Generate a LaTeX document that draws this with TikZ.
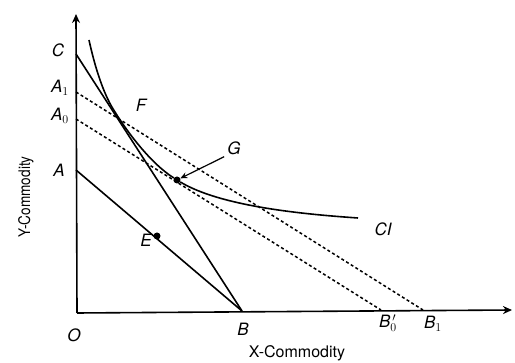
\documentclass[tikz,border=0pt]{standalone}
\usepackage{fontspec}
\setmainfont{TeX Gyre Heros}
\usetikzlibrary{arrows.meta}
\begin{document}
\begin{tikzpicture}[x=1pt,y=-1pt,
  ax/.style={line width=1.6pt,-{Stealth[length=9pt,width=8pt]}},
  bl/.style={line width=1.6pt},
  dl/.style={line width=1.5pt,dash pattern=on 3pt off 2.5pt},
  lab/.style={font=\fontsize{17}{19}\selectfont\itshape,inner sep=0pt},
  axlab/.style={font=\fontsize{16}{18}\selectfont,inner sep=0pt},
  dot/.style={circle,fill=black,inner sep=0pt,minimum size=7pt}]
\useasboundingbox (0,0) rectangle (515,363);
% points
\coordinate (O) at (77,313);
\coordinate (Ytop) at (76,14);
\coordinate (Xend) at (512,310);
\coordinate (C) at (76,54);
\coordinate (A1) at (76,92);
\coordinate (A0) at (76,119);
\coordinate (A) at (76,170);
\coordinate (B) at (242,311);
\coordinate (B0) at (381,310);
\coordinate (B1) at (423,310);
\coordinate (F) at (115,112);
\coordinate (CIs) at (89,40);
\coordinate (CIe) at (358,218);
\node[dot] (E) at (157,236) {};
\node[dot] (G) at (177,180) {};
% axes
\draw[ax] (O) -- (Ytop);
\draw[ax] (O) -- (Xend);
% budget lines
\draw[bl] (C) -- (B);
\draw[bl] (A) -- (B);
\draw[dl] (A1) -- (B1);
\draw[dl] (A0) -- (B0);
% indifference curve
\draw[bl] (CIs) .. controls (96,72) and (105,97) .. (F)
  .. controls (126,130) and (150,163) .. (G)
  .. controls (220,206) and (300,214) .. (CIe);
% G pointer
\node[lab] (Gl) at (234,148) {G};
\draw[line width=1.2pt,-{Stealth[length=7pt,width=6pt]}] (Gl.south west) ++(-3,2) coordinate (gs) -- (G);
% labels
\node[lab] (Cl) at (58,50) {C};
\node[lab] (A1l) at (60,88) {A$_1$};
\node[lab] (A0l) at (60,116) {A$_0$};
\node[lab] (Al) at (59,170) {A};
\node[lab] (Fl) at (141,105) {F};
\node[lab] (CIl) at (383,229) {CI};
\node[lab] (El) at (146,240) {E};
\node[lab] (Ol) at (74,335) {O};
\node[lab] (Bl) at (243,329) {B};
\node[lab] (B0l) at (388,323) {B$_0^{\,\prime}$};
\node[lab] (B1l) at (433,324) {B$_1$};
\node[axlab] (Xl) at (297,353) {X-Commodity};
\node[axlab,rotate=90,xscale=0.85] (Yl) at (26,197) {Y-Commodity};
\end{tikzpicture}
\end{document}
